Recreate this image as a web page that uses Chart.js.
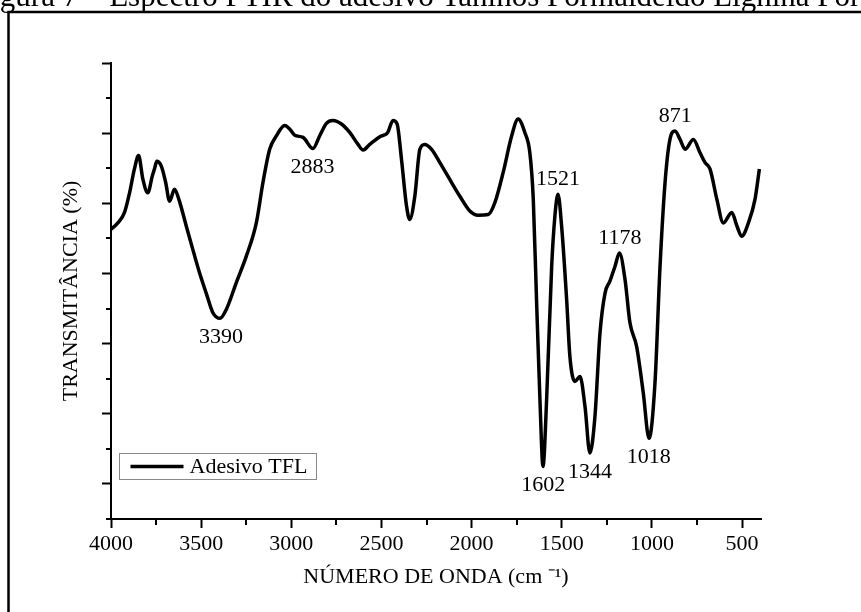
<!DOCTYPE html>
<html>
<head>
<meta charset="utf-8">
<script src="https://cdn.jsdelivr.net/npm/chart.js@4/dist/chart.umd.min.js"></script>
<style>
  html, body { margin: 0; padding: 0; background: #fff; }
  #wrap { width: 861px; height: 612px; position: relative; }
</style>
</head>
<body>
<div id="wrap"><canvas id="ftir" width="861" height="612"></canvas></div>
<script>
// spectrum (cm-1 / transmittance, arbitrary %)
var wavenumbers = [4000, 3962, 3925, 3897, 3870, 3847, 3823, 3796, 3771, 3759,
  3746, 3721, 3697, 3675, 3648, 3624, 3583, 3546, 3509, 3472,
  3435, 3395, 3360, 3305, 3249, 3194, 3157, 3120, 3083, 3037,
  3009, 2981, 2935, 2880, 2843, 2805, 2769, 2722, 2676, 2630,
  2602, 2565, 2509, 2472, 2465, 2436, 2413, 2389, 2361, 2343,
  2315, 2287, 2260, 2222, 2176, 2121, 2065, 2010, 1964, 1908,
  1871, 1825, 1778, 1742, 1705, 1677, 1658, 1640, 1621, 1604,
  1584, 1556, 1538, 1521, 1501, 1473, 1455, 1427, 1399, 1371,
  1344, 1316, 1288, 1260, 1233, 1205, 1180, 1149, 1122, 1085,
  1048, 1016, 983, 955, 927, 900, 872, 844, 816, 770,
  733, 705, 678, 640, 604, 557, 529, 502, 465, 428, 404];
var transmittance = [41.3, 42.2, 43.7, 46.5, 49.9, 51.8, 48.4, 46.5, 48.9, 49.9,
  51.0, 50.3, 48.0, 45.3, 47.0, 45.6, 41.8, 38.4, 35.1, 32.2,
  29.4, 28.6, 29.9, 33.7, 37.5, 42.2, 48.0, 52.7, 54.6, 56.1,
  55.6, 54.7, 54.4, 52.8, 54.6, 56.4, 56.8, 56.3, 55.1, 53.4,
  52.6, 53.4, 54.5, 54.9, 55.1, 56.8, 56.3, 51.3, 44.6, 42.7,
  46.0, 52.7, 53.4, 52.7, 50.8, 48.4, 46.0, 43.9, 43.3, 43.4,
  45.1, 49.4, 54.6, 57.0, 55.1, 52.2, 45.6, 31.3, 17.0, 7.5,
  17.0, 36.0, 43.2, 46.3, 41.8, 31.3, 23.2, 19.6, 20.3, 16.0,
  9.4, 14.6, 26.5, 32.2, 33.9, 36.0, 37.9, 34.1, 28.0, 24.6,
  18.0, 11.5, 19.4, 36.0, 48.0, 54.1, 55.3, 54.1, 52.7, 54.1,
  52.2, 50.8, 49.9, 45.6, 42.2, 43.7, 41.8, 40.3, 42.2, 45.6, 49.9];

var peakLabels = [3390, 2883, 1602, 1521, 1344, 1178, 1018, 871];
var peakSide = ['below', 'below', 'below', 'above', 'below', 'above', 'below', 'above'];

var xTickValues = [4000, 3500, 3000, 2500, 2000, 1500, 1000, 500];
var xMinorValues = [3750, 3250, 2750, 2250, 1750, 1250, 750];
var yTickValues = [5, 15, 25, 35, 45, 55, 65];
var yMinorValues = [0, 10, 20, 30, 40, 50, 60];

var seriesName = 'Adesivo TFL';
var figureCaption = 'Figura 7 \u2013 Espectro FTIR do adesivo Taninos Formalde\u00eddo Lignina Formalde\u00eddo';

var serif = "'Liberation Serif', 'Times New Roman', serif";
Chart.defaults.font.family = serif;
Chart.defaults.font.size = 22;
Chart.defaults.color = '#000';

var points = wavenumbers.map(function (w, i) { return {x: w, y: transmittance[i]}; });

//frame, caption, minor ticks, peak labels and the legend box
var decor = {
  id: 'decor',
  afterDraw: function (chart) {
    var ctx = chart.ctx;
    var xs = chart.scales.x, ys = chart.scales.y;
    var area = chart.chartArea;
    var meta = chart.getDatasetMeta(0);
    ctx.save();

    // page frame
    ctx.strokeStyle = '#000';
    ctx.lineWidth = 2.5;
    ctx.beginPath();
    ctx.moveTo(8.5, 612);
    ctx.lineTo(8.5, 12);
    ctx.lineTo(861, 12);
    ctx.stroke();

    // caption cut by the top edge
    ctx.font = '31px ' + serif;
    ctx.fillStyle = '#000';
    ctx.textAlign = 'left';
    ctx.textBaseline = 'alphabetic';
    ctx.fillText(figureCaption, -26, 6);

    // minor ticks
    ctx.lineWidth = 2;
    ctx.beginPath();
    xMinorValues.forEach(function (v) {
      var px = Math.round(xs.getPixelForValue(v));
      ctx.moveTo(px, area.bottom);
      ctx.lineTo(px, area.bottom + 6);
    });
    yMinorValues.forEach(function (v) {
      var py = Math.round(ys.getPixelForValue(v));
      ctx.moveTo(area.left - 5, py);
      ctx.lineTo(area.left, py);
    });
    ctx.stroke();

    // peak labels
    ctx.font = '22px ' + serif;
    ctx.textAlign = 'center';
    ctx.textBaseline = 'middle';
    peakLabels.forEach(function (w, k) {
      var best = 0;
      wavenumbers.forEach(function (v, i) {
        if (Math.abs(v - w) < Math.abs(wavenumbers[best] - w)) best = i;
      });
      var pt = meta.data[best];
      var py = peakSide[k] === 'below' ? pt.y + 19 : pt.y - 15;
      ctx.fillText(String(w), xs.getPixelForValue(w), py);
    });

    // legend
    var ds = chart.data.datasets[0];
    var bx = area.left + 8.5, by = area.bottom - 65.5;
    ctx.strokeStyle = '#888';
    ctx.lineWidth = 1;
    ctx.strokeRect(bx, by, 197, 26);
    ctx.strokeStyle = ds.borderColor;
    ctx.lineWidth = ds.borderWidth;
    ctx.beginPath();
    ctx.moveTo(bx + 11, by + 13);
    ctx.lineTo(bx + 64, by + 13);
    ctx.stroke();
    ctx.textAlign = 'left';
    ctx.fillText(ds.label, bx + 70, by + 14);

    ctx.restore();
  }
};

var ctx = document.getElementById('ftir').getContext('2d');
var ftirChart = new Chart(ctx, {
  type: 'line',
  data: {
    datasets: [{
      label: seriesName,
      data: points,
      borderColor: '#000',
      borderWidth: 3.5,
      pointRadius: 0,
      fill: false,
      cubicInterpolationMode: 'monotone'
    }]
  },
  options: {
    responsive: false,
    animation: false,
    devicePixelRatio: 1,
    layout: { padding: { left: 0, top: 63, right: 100, bottom: 0 } },
    plugins: {
      legend: { display: false },
      tooltip: { enabled: false }
    },
    scales: {
      x: {
        type: 'linear',
        reverse: true,
        min: 395,
        max: 4000,
        afterBuildTicks: function (s) {
          s.ticks = xTickValues.map(function (v) { return {value: v}; });
        },
        afterFit: function (s) { s.height = 93; },
        ticks: {
          autoSkip: false,
          maxRotation: 0,
          padding: 3,
          color: '#000',
          callback: function (v) { return String(v); }
        },
        grid: {
          drawOnChartArea: false,
          drawTicks: true,
          tickLength: 9,
          tickWidth: 2,
          tickColor: '#000'
        },
        border: { display: true, color: '#000', width: 2 },
        title: {
          display: true,
          text: 'N\u00daMERO DE ONDA (cm \u207b\u00b9)',
          color: '#000',
          padding: { top: 0, bottom: 22 }
        }
      },
      y: {
        type: 'linear',
        min: 0,
        max: 65,
        afterBuildTicks: function (s) {
          s.ticks = yTickValues.map(function (v) { return {value: v}; });
        },
        afterFit: function (s) { s.width = 111; },
        ticks: { display: false },
        grid: {
          drawOnChartArea: false,
          drawTicks: true,
          tickLength: 9,
          tickWidth: 2,
          tickColor: '#000'
        },
        border: { display: true, color: '#000', width: 2 },
        title: {
          display: true,
          text: 'TRANSMIT\u00c2NCIA (%)',
          color: '#000',
          padding: { top: 58, bottom: 0 }
        }
      }
    }
  },
  plugins: [decor]
});
</script>
</body>
</html>
